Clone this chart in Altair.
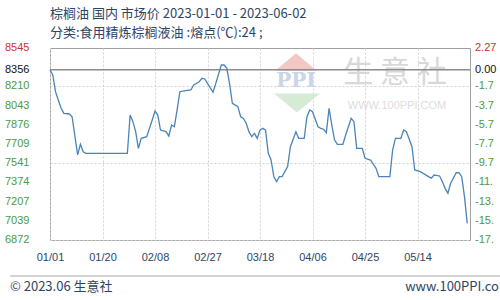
import altair as alt
import pandas as pd

# Daily domestic palm oil market price (yuan/ton)
dates = [
    "2023-01-01", "2023-01-02", "2023-01-03", "2023-01-04", "2023-01-05", "2023-01-06",
    "2023-01-08", "2023-01-09", "2023-01-10", "2023-01-11", "2023-01-12", "2023-01-13",
    "2023-01-14", "2023-01-29", "2023-01-30", "2023-01-31", "2023-02-01", "2023-02-02",
    "2023-02-03", "2023-02-05", "2023-02-07", "2023-02-08", "2023-02-09", "2023-02-10",
    "2023-02-12", "2023-02-13", "2023-02-14", "2023-02-15", "2023-02-16", "2023-02-17",
    "2023-02-19", "2023-02-21", "2023-02-22", "2023-02-24", "2023-02-25", "2023-02-26",
    "2023-02-27", "2023-03-01", "2023-03-02", "2023-03-04", "2023-03-05", "2023-03-06",
    "2023-03-07", "2023-03-08", "2023-03-10", "2023-03-11", "2023-03-12", "2023-03-13",
    "2023-03-14", "2023-03-15", "2023-03-16", "2023-03-17", "2023-03-18", "2023-03-19",
    "2023-03-20", "2023-03-21", "2023-03-22", "2023-03-23", "2023-03-24", "2023-03-25",
    "2023-03-26", "2023-03-28", "2023-03-29", "2023-03-31", "2023-04-01", "2023-04-03",
    "2023-04-04", "2023-04-05", "2023-04-06", "2023-04-08", "2023-04-09", "2023-04-10",
    "2023-04-11", "2023-04-12", "2023-04-13", "2023-04-14", "2023-04-15", "2023-04-17",
    "2023-04-18", "2023-04-20", "2023-04-21", "2023-04-22", "2023-04-24", "2023-04-25",
    "2023-04-27", "2023-04-29", "2023-04-30", "2023-05-04", "2023-05-05", "2023-05-06",
    "2023-05-08", "2023-05-09", "2023-05-10", "2023-05-12", "2023-05-13", "2023-05-15",
    "2023-05-18", "2023-05-19", "2023-05-20", "2023-05-22", "2023-05-23", "2023-05-24",
    "2023-05-25", "2023-05-26", "2023-05-28", "2023-05-29", "2023-05-30", "2023-05-31",
    "2023-06-01",
]
prices = [
    8356, 8310, 8164, 8092, 8022, 7976,
    7970, 7946, 7780, 7613, 7706, 7641,
    7627, 7627, 7961, 7903, 7816, 7671,
    7758, 7772, 7918, 7996, 7961, 7830,
    7816, 7778, 7874, 7859, 8005, 8164,
    8173, 8179, 8223, 8251, 8281, 8275,
    8237, 8159, 8237, 8397, 8397, 8368,
    8230, 8063, 8034, 7946, 7932, 7889,
    7816, 7772, 7801, 7758, 7830, 7845,
    7830, 7627, 7569, 7424, 7380, 7424,
    7424, 7511, 7685, 7816, 7758, 7758,
    7946, 8005, 7990, 7859, 7845, 7837,
    7807, 8020, 7870, 7743, 7706, 7706,
    7787, 7932, 7903, 7671, 7671, 7584,
    7569, 7497, 7424, 7424, 7656, 7758,
    7758, 7830, 7816, 7685, 7482, 7467,
    7424, 7410, 7438, 7430, 7380, 7322,
    7279, 7366, 7458, 7458, 7424, 7250,
    7017,
]

base_price = 8356
y_ticks = [8545, 8356, 8210, 8043, 7876, 7709, 7541, 7374, 7207, 7039, 6872]
pct_labels = ["2.27", "0.00", "-1.7", "-3.7", "-5.7", "-7.7", "-9.7",
              "-11.", "-13.", "-15.", "-17."]
x_ticks = ["2023-01-01", "2023-01-20", "2023-02-08", "2023-02-27",
           "2023-03-18", "2023-04-06", "2023-04-25", "2023-05-14"]
x_range = ["2023-01-01", "2023-06-02"]

title_text = "棕榈油 国内 市场价 2023-01-01 - 2023-06-02"
subtitle_text = "分类:食用精炼棕榈液油 :熔点(℃):24 ;"
footer_left = "© 2023.06 生意社"
footer_right = "www.100PPI.co"

CJK = "Noto Sans CJK SC"
TEXT_COLOR = "#2d4565"
UP_COLOR = "#c8332e"
BASE_COLOR = "#111111"
DOWN_COLOR = "#4d9a3e"


def utc_dt(s):
    y, m, d = (int(p) for p in s.split("-"))
    return alt.DateTime(year=y, month=m, date=d, utc=True)


df = pd.DataFrame({"date": dates, "price": prices})

ticks_df = pd.DataFrame({
    "tick": y_ticks,
    "price_label": [str(t) for t in y_ticks],
    "pct_label": pct_labels,
    "kind": ["up" if t > base_price else ("base" if t == base_price else "down") for t in y_ticks],
})

y_scale = alt.Scale(domain=[y_ticks[-1], y_ticks[0]], nice=False, zero=False)
x_scale = alt.Scale(type="utc", domain=[utc_dt(x_range[0]), utc_dt(x_range[1])])
kind_color = alt.Color(
    "kind:N",
    scale=alt.Scale(domain=["up", "base", "down"], range=[UP_COLOR, BASE_COLOR, DOWN_COLOR]),
    legend=None,
)

line = alt.Chart(df).mark_line(color="#4a84b8", strokeWidth=1.3).encode(
    x=alt.X(
        "date:T",
        scale=x_scale,
        axis=alt.Axis(
            values=[utc_dt(t) for t in x_ticks],
            format="%m/%d",
            title=None,
            ticks=False,
            domain=False,
            grid=True,
            gridColor="#d2d2d2",
            gridDash=[2, 2],
            labelPadding=11,
            labelFontSize=11,
            labelFont="Liberation Sans",
            labelColor=TEXT_COLOR,
            labelFlush=False,
            labelOverlap=False,
        ),
    ),
    y=alt.Y(
        "price:Q",
        scale=y_scale,
        axis=alt.Axis(
            values=y_ticks,
            title=None,
            ticks=False,
            domain=False,
            labels=False,
            grid=True,
            gridColor="#d2d2d2",
            gridDash=[2, 2],
        ),
    ),
)

# Reference line at the opening price
base_rule = alt.Chart(pd.DataFrame({"p": [base_price]})).mark_rule(
    color="#8c8c8c", strokeWidth=1.5
).encode(y=alt.Y("p:Q", scale=y_scale))

# Price labels on the left, percentage change labels on the right
price_text = alt.Chart(ticks_df).mark_text(
    align="left", baseline="middle", fontSize=11, font="Liberation Sans"
).encode(
    x=alt.value(-45),
    y=alt.Y("tick:Q", scale=y_scale),
    text="price_label:N",
    color=kind_color,
)
pct_text = alt.Chart(ticks_df).mark_text(
    align="left", baseline="middle", fontSize=11, font="Liberation Sans"
).encode(
    x=alt.value(425),
    y=alt.Y("tick:Q", scale=y_scale),
    text="pct_label:N",
    color=kind_color,
)

one = pd.DataFrame({"k": [0]})

# Faint site watermark
roof = alt.Chart(one).mark_point(
    shape="M-1,0.42L0,-0.42L1,0.42Z", filled=True, color="#f3c8c4", opacity=1, size=1700
).encode(x=alt.value(246), y=alt.value(14))
ppi = alt.Chart(one).mark_text(
    text="PPI", font="DejaVu Serif", fontSize=20, fontWeight="bold", color="#cad5e8"
).encode(x=alt.value(246), y=alt.value(33))
funnel = alt.Chart(one).mark_point(
    shape="M-1,-0.42L1,-0.42L0,0.42Z", filled=True, color="#d6ebd6", opacity=1, size=2100
).encode(x=alt.value(247), y=alt.value(55))
wm_name = alt.Chart(one).mark_text(
    text="生 意 社", font=CJK, fontSize=30, color="#d8d8d8"
).encode(x=alt.value(345), y=alt.value(25))
wm_url = alt.Chart(one).mark_text(
    text="WWW.100PPI.COM", font="Liberation Sans", fontSize=11, color="#dddddd"
).encode(x=alt.value(347), y=alt.value(58))

# Heading lines above the plot
title = alt.Chart(one).mark_text(
    text=title_text, font=CJK, fontSize=13, color=TEXT_COLOR, align="left", baseline="middle"
).encode(x=alt.value(0), y=alt.value(-34))
subtitle = alt.Chart(one).mark_text(
    text=subtitle_text, font=CJK, fontSize=13, color=TEXT_COLOR, align="left", baseline="middle"
).encode(x=alt.value(0), y=alt.value(-15))

# Footer
footer_rule = alt.Chart(one).mark_rule(color="#a8a8a8", strokeWidth=1).encode(
    x=alt.value(-40), x2=alt.value(450), y=alt.value(228)
)
footer_l = alt.Chart(one).mark_text(
    text=footer_left, font=CJK, fontSize=13, color=TEXT_COLOR, align="left", baseline="middle"
).encode(x=alt.value(-40), y=alt.value(239))
footer_r = alt.Chart(one).mark_text(
    text=footer_right, font=CJK, fontSize=13, color=TEXT_COLOR, align="right", baseline="middle"
).encode(x=alt.value(449), y=alt.value(239))

chart = alt.layer(
    roof, ppi, funnel, wm_name, wm_url,
    base_rule, line, price_text, pct_text,
    title, subtitle, footer_rule, footer_l, footer_r,
).properties(
    width=420,
    height=192,
    padding={"left": 50, "top": 48, "right": 30, "bottom": 60},
    autosize="none",
    background="white",
).configure_view(
    stroke="#a0a0a0", strokeWidth=1
)

chart.save("out.html", embed_options={"renderer": "svg", "actions": False})
